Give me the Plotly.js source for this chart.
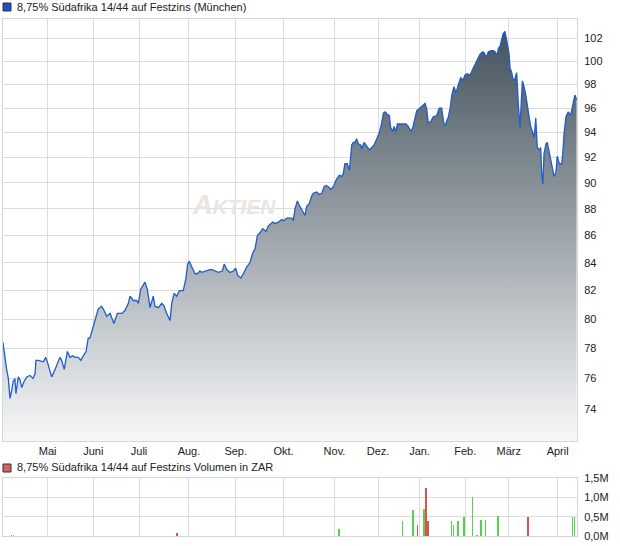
<!DOCTYPE html>
<html>
<head>
<meta charset="utf-8">
<script src="https://cdn.plot.ly/plotly-3.0.1.min.js"></script>
<style>
html,body{margin:0;padding:0;background:#fff;}
#chart{width:620px;height:546px;}
</style>
</head>
<body>
<div id="chart"></div>
<script>
// trading-day index (0 = first day of the period) and closing price
const day = [0,0.9,1.7,2.5,3.3,4.1,4.8,5.6,6.1,7.2,
8,8.8,9.9,11.2,12.7,14.1,15.1,15.5,16.6,19,
20.1,21.3,22.9,24.5,26.8,27.6,28.8,30.3,31.5,32.8,
33.9,35.4,36.6,37.8,39.1,40.1,40.9,41.7,43.3,44.8,
46.4,47.2,48.8,50.4,52.2,53.8,55.9,57.4,59,59.8,
61.3,62.9,63.7,64.8,66.8,67.9,69.2,70.7,71.5,73.1,
74.7,75.8,77,78.6,79.4,80.5,81.7,83,84.8,86,
86.9,87.7,88.8,90.4,91.4,92.7,93.5,95.1,97.4,98.4,
99.8,101.3,103.2,104.1,105.3,106.8,108.4,109.5,110.4,111.9,
113.1,114.7,116.2,117.5,118.6,119.7,120.9,122.2,123.8,124.8,
126.9,128,129.6,131.2,132.2,133.5,135.9,136.6,137.4,138.5,
139.4,141.3,142.1,142.9,144.1,145.3,146,147.6,148.8,150,
151.1,152,153.1,154.2,155.4,156.2,157,158.3,159.4,160.1,
160.9,162,163,163.3,164.1,164.8,165.6,166.4,167.2,168.3,
168.8,169.9,171.1,172.4,173.5,174.6,175.9,177.1,178.2,179,
179.8,180.8,181.8,182.4,183.4,184,184.9,185.6,186.8,188.4,
189.6,190.7,191.9,192.8,193.9,194.7,195.4,196.6,197.5,198.6,
199.4,200.1,201.3,202.5,204.1,205.3,206.4,207.5,208,209.6,
210.4,211.2,212.2,213.2,214.3,215.4,216.3,217.4,218.5,219.8,
221,222.1,223.2,224.5,225.7,226.5,227.3,228.4,229.6,230.7,
231.5,232.5,233.1,233.9,234.8,235.4,236.2,236.7,237.5,238.1,
238.6,239.4,240.1,240.9,241.7,242.5,243.3,243.6,244.4,245.2,
246.1,247.2,248.3,249.3,250,250.7,251.4,252.4,253,253.5,
254,254.6,255.5,256.1,257.1,258.2,259.3,260.2,260.8,261.8,
262.9,263.4,264,264.9,266,267.1,268,269.1,269.9];

const price = [78.4,77.3,76.6,76.0,74.7,75.2,75.8,76.0,75.0,76.1,
75.9,75.4,75.8,76.1,76.2,76.0,76.3,77.2,77.2,77.1,
77.4,76.9,76.1,76.6,77.4,77.2,76.6,77.8,77.4,77.5,
77.4,77.4,77.2,77.5,77.8,78.7,78.7,79.1,79.9,80.7,
80.9,80.7,80.2,80.4,79.7,80.4,80.4,80.6,81.1,81.6,
81.3,81.3,81.1,82.1,82.6,82.1,80.8,81.6,80.9,80.8,
81.1,80.9,80.4,79.9,81.1,81.8,81.6,82.0,82.0,82.8,
83.9,84.1,83.7,83.2,83.2,83.4,83.3,83.4,83.5,83.5,
83.4,83.3,83.4,83.9,83.5,83.3,83.4,83.6,83.1,82.9,
83.2,83.7,84.0,84.7,85.0,86.0,86.2,86.5,86.3,86.7,
87.0,86.9,87.0,87.2,87.1,87.3,87.3,87.1,88.0,88.6,
88.3,87.8,87.5,88.2,88.4,89.0,89.2,89.3,89.1,89.2,
89.7,89.8,89.7,89.5,89.7,90.0,90.3,90.6,90.5,90.7,
91.5,91.5,91.0,91.5,93.0,93.2,93.2,93.5,93.1,93.0,
92.7,93.2,92.9,92.6,92.8,93.0,93.5,94.0,94.8,95.6,
95.7,95.5,95.4,94.4,94.1,94.5,94.1,94.7,94.7,94.7,
94.7,94.5,94.1,94.4,95.2,95.8,95.9,96.1,96.3,96.4,
95.9,94.8,94.9,95.3,95.4,96.0,96.0,94.7,94.6,95.3,
96.0,97.1,97.8,97.3,98.0,98.6,98.3,98.8,98.9,98.8,
99.3,99.7,100.0,100.6,100.8,100.7,100.3,100.8,100.9,100.9,
100.8,100.5,101.1,101.3,102.0,102.4,102.6,102.2,101.3,100.7,
99.4,99.0,98.3,98.5,99.0,96.3,94.4,95.5,98.3,97.8,
97.0,95.7,94.5,94.0,93.6,95.2,92.8,92.6,92.8,90.7,
89.9,92.3,93.1,93.2,92.3,91.3,90.5,90.8,92.1,91.5,
91.5,92.3,93.9,95.3,95.7,95.4,96.1,97.1,96.7];

// volume (ZAR) per trading day, and whether the day closed up
const volDay = [4,5,82,158,188,193,195,198,199,200,211,212,214,217,221,223,225,227,233,247,268,269];
const volValue = [30000,30000,70000,180000,390000,670000,280000,690000,1240000,390000,390000,280000,390000,490000,1000000,30000,410000,410000,510000,490000,490000,490000];
const volUp = [1,1,0,1,1,1,0,1,0,0,1,1,1,1,1,1,1,1,1,0,1,1];

// month start positions (trading-day index) and labels
const monthDay = [21,42.5,64,87.5,109.5,132,156,176.5,196,217.5,238,261];
const monthLabel = ['Mai','Juni','Juli','Aug.','Sep.','Okt.','Nov.','Dez.','Jan.','Feb.','März','April'];

const priceTicks = [74,76,78,80,82,84,86,88,90,92,94,96,98,100,102];
const volTicks = [0,500000,1000000,1500000];
const volTickText = ['0,0M','0,5M','1,0M','1,5M'];

const titleMain = '8,75% Südafrika 14/44 auf Festzins (München)';
const titleVol = '8,75% Südafrika 14/44 auf Festzins Volumen in ZAR';

const FONT = 'Liberation Sans, Arial, sans-serif';
const yLo = 72, yHi = 103.7;

const traces = [
  {
    x: day, y: price, type: 'scatter', mode: 'lines',
    xaxis: 'x', yaxis: 'y',
    line: {color: '#1f5ccc', width: 1.3},
    fill: 'tozeroy',
    fillgradient: {type: 'vertical', start: yLo, stop: yHi,
      colorscale: [[0, '#f7f8f9'], [1, '#3f4e59']]},
    hoverinfo: 'skip'
  },
  {
    x: volDay, y: volValue, type: 'bar',
    xaxis: 'x2', yaxis: 'y2',
    width: 0.75,
    marker: {color: volUp.map(u => u ? '#55d04f' : '#d9534f'), line: {width: 0}},
    hoverinfo: 'skip'
  }
];

const gridC = '#dcdcdc';
const layout = {
  width: 620, height: 546,
  margin: {l: 3, r: 43, t: 0, b: 0},
  paper_bgcolor: '#ffffff', plot_bgcolor: '#ffffff',
  showlegend: false,
  font: {family: FONT, size: 11, color: '#222'},
  xaxis: {
    domain: [0, 1], range: [0, 270.1], type: 'linear',
    tickvals: monthDay, ticktext: monthLabel,
    showgrid: true, gridcolor: gridC, gridwidth: 1,
    showline: true, mirror: true, linecolor: '#d6d6d6', linewidth: 1,
    ticks: '', zeroline: false, anchor: 'y',
    tickfont: {family: FONT, size: 11, color: '#222'}
  },
  yaxis: {
    domain: [(546 - 441) / 546, (546 - 19) / 546],
    type: 'log', range: [Math.log10(yLo), Math.log10(yHi)],
    side: 'right', tickvals: priceTicks, ticktext: priceTicks.map(String),
    showgrid: true, gridcolor: gridC, gridwidth: 1,
    showline: true, mirror: true, linecolor: '#d6d6d6', linewidth: 1,
    ticks: '', ticklabelstandoff: 4, zeroline: false, anchor: 'x',
    tickfont: {family: FONT, size: 11, color: '#222'}
  },
  xaxis2: {
    domain: [0, 1], range: [0, 270.1], type: 'linear', anchor: 'y2',
    tickvals: monthDay, showticklabels: false,
    showgrid: true, gridcolor: gridC, gridwidth: 1,
    showline: true, mirror: true, linecolor: '#d6d6d6', linewidth: 1,
    ticks: '', zeroline: false
  },
  yaxis2: {
    domain: [(546 - 536) / 546, (546 - 478) / 546],
    range: [0, 1500000], side: 'right', anchor: 'x2',
    tickvals: volTicks, ticktext: volTickText,
    showgrid: true, gridcolor: gridC, gridwidth: 1,
    showline: true, mirror: true, linecolor: '#d6d6d6', linewidth: 1,
    ticks: '', ticklabelstandoff: 4, zeroline: false,
    tickfont: {family: FONT, size: 11, color: '#222'}
  },
  bargap: 0,
  annotations: [
    {text: titleMain, xref: 'paper', yref: 'paper', x: 12 / 574, y: (546 - 7) / 546,
     xanchor: 'left', yanchor: 'middle', showarrow: false,
     font: {family: FONT, size: 11, color: '#222'}},
    {text: titleVol, xref: 'paper', yref: 'paper', x: 12 / 574, y: (546 - 467) / 546,
     xanchor: 'left', yanchor: 'middle', showarrow: false,
     font: {family: FONT, size: 11, color: '#222'}},
    {text: '<span style="font-size:27px">A</span>KTIEN', xref: 'paper', yref: 'paper',
     x: (234 - 3) / 574, y: (546 - 205) / 546, xanchor: 'center', yanchor: 'middle',
     showarrow: false,
     font: {family: FONT, size: 21, color: '#ebe5de', style: 'italic', weight: 'bold'}}
  ],
  shapes: [
    {type: 'rect', xref: 'paper', yref: 'paper',
     x0: 0, x1: 8 / 574, y0: (546 - 11) / 546, y1: (546 - 3) / 546,
     fillcolor: '#1d50c0', line: {color: '#333', width: 1}},
    {type: 'rect', xref: 'paper', yref: 'paper',
     x0: 0, x1: 8 / 574, y0: (546 - 472) / 546, y1: (546 - 464) / 546,
     fillcolor: '#d9625f', line: {color: '#333', width: 1}}
  ]
};

Plotly.newPlot('chart', traces, layout, {staticPlot: true, displayModeBar: false});
</script>
</body>
</html>
